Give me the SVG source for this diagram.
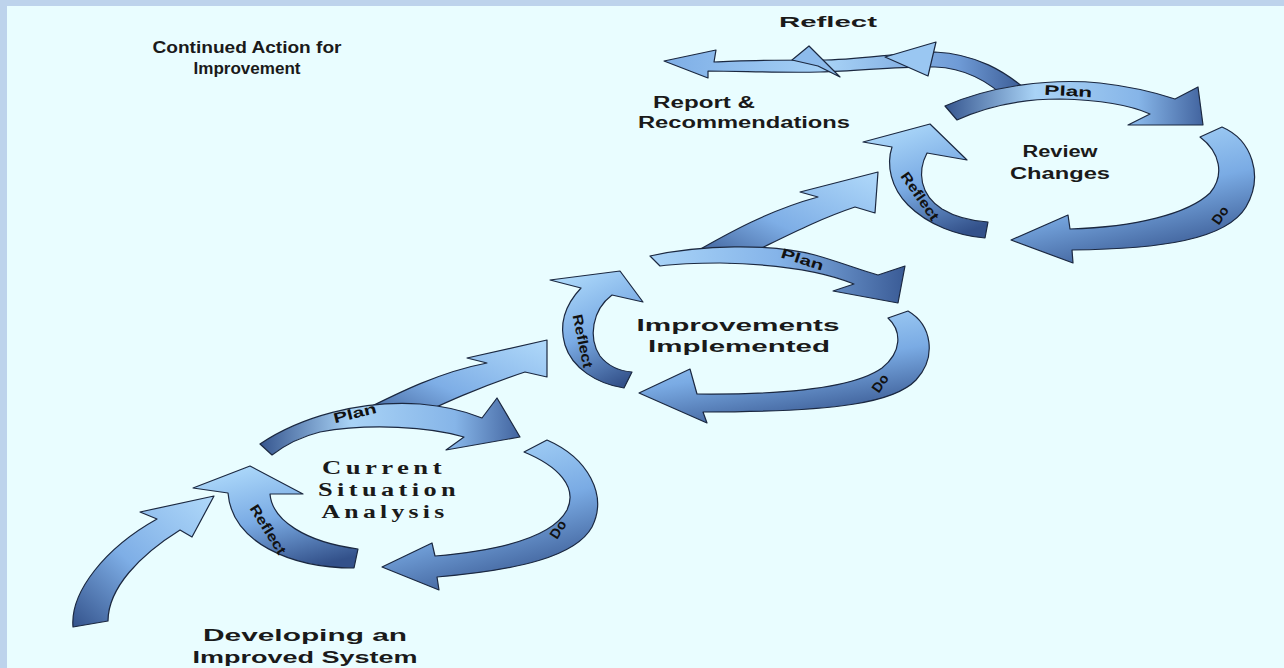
<svg xmlns="http://www.w3.org/2000/svg" width="1284" height="668" viewBox="0 0 1284 668">
<defs>
<linearGradient id="gTB" x1="0.3" y1="0" x2="0.7" y2="1"><stop offset="0" stop-color="#acd8fa"/><stop offset="0.5" stop-color="#7aabe4"/><stop offset="1" stop-color="#33518a"/></linearGradient>
<linearGradient id="gLR" x1="0" y1="0" x2="1" y2="0"><stop offset="0" stop-color="#a9d4f8"/><stop offset="0.5" stop-color="#85b4e9"/><stop offset="1" stop-color="#3a5b96"/></linearGradient>
<linearGradient id="gArc" x1="0" y1="0" x2="1" y2="0"><stop offset="0" stop-color="#36568f"/><stop offset="0.35" stop-color="#a9d3f6"/><stop offset="0.75" stop-color="#86b5e8"/><stop offset="1" stop-color="#42649f"/></linearGradient>
<linearGradient id="gUp" x1="0" y1="1" x2="1" y2="0"><stop offset="0" stop-color="#34538c"/><stop offset="0.45" stop-color="#7eaee6"/><stop offset="1" stop-color="#b0d9fa"/></linearGradient>
<linearGradient id="gTop" x1="0" y1="0" x2="1" y2="0"><stop offset="0" stop-color="#7eaee6"/><stop offset="0.45" stop-color="#a6d1f6"/><stop offset="0.8" stop-color="#6f9bd6"/><stop offset="1" stop-color="#34538c"/></linearGradient>
</defs>
<style>
.bg{fill:#e9fdff}
.frame{fill:#bdd3ec}
.ar{stroke:#1b2840;stroke-width:1.2;stroke-linejoin:round}
.lbl{font-family:"Liberation Sans",Arial,sans-serif;font-weight:bold;font-size:16px;fill:#1a1a1a}
.ser{font-family:"Liberation Serif","Times New Roman",serif;font-weight:bold;font-size:18px;letter-spacing:3px;fill:#1a1a1a}
.arl{font-family:"Liberation Sans",Arial,sans-serif;font-weight:bold;font-size:14px;fill:#111}
</style>
<rect class="bg" x="0" y="0" width="1284" height="668"/>
<rect class="frame" x="0" y="0" width="1284" height="6"/>
<rect class="frame" x="0" y="0" width="7" height="668"/>

<g id="connectors">
<path id="entry" class="ar" fill="url(#gUp)" d="M 73,627 C 70,592 105,548 157,519 L 140,512 L 214,496 L 192,537 L 180,530 C 140,555 108,588 108,621 Z"/>
<path id="c12" class="ar" fill="url(#gUp)" d="M 360,412 C 400,392 440,372 487,363 L 467,358 L 547,340 L 547,377 L 525,372 C 470,390 430,410 395,426 Z"/>
<path id="c23" class="ar" fill="url(#gUp)" d="M 690,255 C 730,232 770,210 818,197 L 800,192 L 878,172 L 875,213 L 855,207 C 810,222 770,245 730,263 Z"/>
<path id="topArrow" class="ar" fill="url(#gTop)" d="M 1032,95 C 1005,70 975,54 935,52 C 900,52 860,60 820,60 C 780,60 740,60 714,62 L 716,50 L 664,61 L 708,78 L 708,71 C 740,71 780,73 820,72 C 860,71 900,66 935,67 C 965,68 990,82 1010,102 Z"/>
<polygon class="ar" fill="#8dbbec" points="792,60 809,46 840,77 818,66"/>
<polygon class="ar" fill="#9ac7f2" points="885,57 936,42 928,76"/>
</g>

<g id="cycle1">
<path class="ar" fill="url(#gArc)" d="M 260,444 C 300,417 360,400 420,404 C 445,406 465,411 482,418 L 497,398 L 520,437 L 446,450 L 464,437 C 430,427 370,423 320,432 C 300,437 285,445 272,455 Z"/>
<text class="arl" transform="translate(356,418) rotate(-14)" text-anchor="middle" textLength="44" lengthAdjust="spacingAndGlyphs">Plan</text>
<path class="ar" fill="url(#gTB)" d="M 524,452 L 547,440 C 588,458 608,495 592,527 C 576,556 520,570 437,577 L 439,590 L 382,567 L 432,543 L 435,556 C 505,550 553,536 567,510 C 578,487 558,466 524,452 Z"/>
<text class="arl" transform="translate(562,532) rotate(-58)" text-anchor="middle">Do</text>
<path class="ar" fill="url(#gTB)" d="M 193,488 L 250,466 L 303,494 L 270,494 C 272,520 305,542 358,549 L 354,568 C 290,568 232,542 228,493 Z"/>
<text class="arl" transform="translate(264,532) rotate(58)" text-anchor="middle" textLength="56" lengthAdjust="spacingAndGlyphs">Reflect</text>
<g id="n1">
<text class="ser" x="384" y="474" text-anchor="middle" textLength="124" lengthAdjust="spacingAndGlyphs">Current</text>
<text class="ser" x="389" y="496" text-anchor="middle" textLength="142" lengthAdjust="spacingAndGlyphs">Situation</text>
<text class="ser" x="385" y="518" text-anchor="middle" textLength="127" lengthAdjust="spacingAndGlyphs">Analysis</text>
</g>
</g>

<g id="cycle2">
<path class="ar" fill="url(#gTB)" d="M 550,280 L 620,271 L 643,302 L 612,295 C 592,310 588,338 600,356 C 608,366 620,371 632,372 L 624,388 C 597,384 572,368 565,345 C 559,325 565,305 581,288 Z"/>
<text class="arl" transform="translate(578,342) rotate(78)" text-anchor="middle" textLength="54" lengthAdjust="spacingAndGlyphs">Reflect</text>
<path class="ar" fill="url(#gLR)" d="M 650,256 C 700,245 770,243 815,255 C 840,262 860,270 878,275 L 905,266 L 898,303 L 833,291 L 854,284 C 820,270 770,264 720,263 C 695,263 675,264 660,266 Z"/>
<text class="arl" transform="translate(801,264) rotate(18)" text-anchor="middle" textLength="44" lengthAdjust="spacingAndGlyphs">Plan</text>
<path class="ar" fill="url(#gTB)" d="M 888,318 L 908,311 C 932,325 937,357 916,380 C 895,402 840,412 703,412 L 707,423 L 639,393 L 690,369 L 697,394 C 800,395 858,385 882,368 C 902,352 902,331 888,318 Z"/>
<text class="arl" transform="translate(884,386) rotate(-55)" text-anchor="middle">Do</text>
<g id="n2">
<text class="lbl" x="738" y="331" text-anchor="middle" textLength="203" lengthAdjust="spacingAndGlyphs">Improvements</text>
<text class="lbl" x="739" y="352" text-anchor="middle" textLength="182" lengthAdjust="spacingAndGlyphs">Implemented</text>
</g>
</g>

<g id="cycle3">
<path class="ar" fill="url(#gTB)" d="M 863,142 L 930,124 L 967,160 L 927,153 C 917,172 920,195 942,209 C 957,218 972,221 988,222 L 985,238 C 958,236 928,225 908,205 C 891,188 886,165 892,147 Z"/>
<text class="arl" transform="translate(916,199) rotate(55)" text-anchor="middle" textLength="56" lengthAdjust="spacingAndGlyphs">Reflect</text>
<path class="ar" fill="url(#gArc)" d="M 945,106 C 990,86 1050,78 1100,83 C 1135,87 1160,94 1175,99 L 1198,87 L 1203,125 L 1128,125 L 1150,114 C 1130,105 1100,100 1060,99 C 1020,99 985,107 957,120 Z"/>
<text class="arl" transform="translate(1068,96) rotate(3)" text-anchor="middle" textLength="48" lengthAdjust="spacingAndGlyphs">Plan</text>
<path class="ar" fill="url(#gTB)" d="M 1200,137 L 1222,127 C 1252,140 1264,176 1246,207 C 1226,240 1160,249 1072,250 L 1073,263 L 1011,240 L 1068,215 L 1070,229 C 1135,227 1188,214 1210,193 C 1225,175 1220,152 1200,137 Z"/>
<text class="arl" transform="translate(1224,218) rotate(-55)" text-anchor="middle">Do</text>
<g id="n3">
<text class="lbl" x="1060" y="157" text-anchor="middle" textLength="75" lengthAdjust="spacingAndGlyphs">Review</text>
<text class="lbl" x="1060" y="179" text-anchor="middle" textLength="100" lengthAdjust="spacingAndGlyphs">Changes</text>
</g>
</g>

<g id="labels">
<text class="lbl" x="247" y="53" text-anchor="middle" textLength="189" lengthAdjust="spacingAndGlyphs">Continued Action for</text>
<text class="lbl" x="247" y="74" text-anchor="middle" textLength="107" lengthAdjust="spacingAndGlyphs">Improvement</text>
<text class="lbl" x="828" y="27" text-anchor="middle" textLength="98" lengthAdjust="spacingAndGlyphs" style="font-size:15px">Reflect</text>
<text class="lbl" x="653" y="108" textLength="102" lengthAdjust="spacingAndGlyphs">Report &amp;</text>
<text class="lbl" x="638" y="128" textLength="212" lengthAdjust="spacingAndGlyphs">Recommendations</text>
<text class="lbl" x="305" y="641" text-anchor="middle" textLength="204" lengthAdjust="spacingAndGlyphs">Developing an</text>
<text class="lbl" x="305" y="663" text-anchor="middle" textLength="225" lengthAdjust="spacingAndGlyphs">Improved System</text>
</g>
</svg>
